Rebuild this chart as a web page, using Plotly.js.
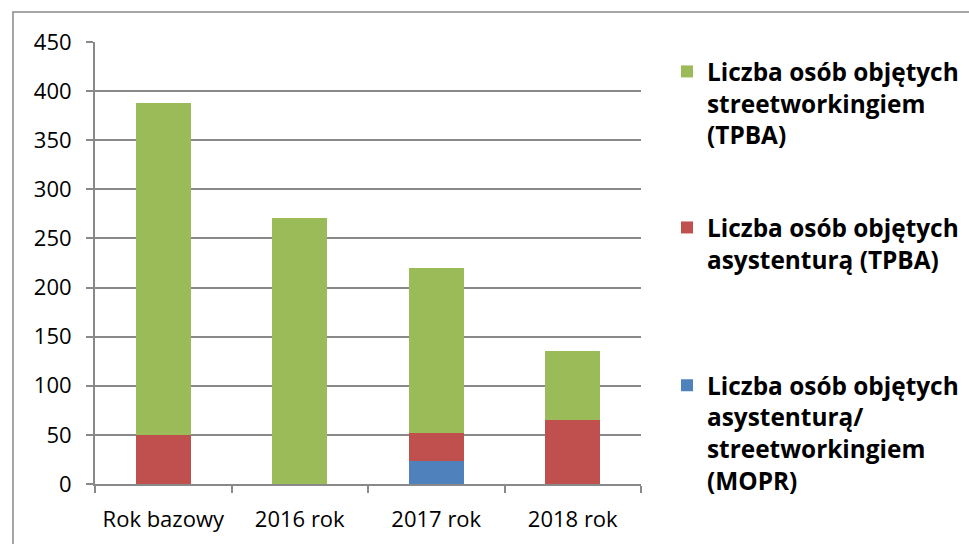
<!DOCTYPE html>
<html>
<head>
<meta charset="utf-8">
<script src="https://cdn.plot.ly/plotly-3.0.1.min.js"></script>
<style>html,body{margin:0;padding:0;background:#fff;}#chart{width:969px;height:544px;}</style>
</head>
<body>
<div id="chart"></div>
<script>
const categories = ["Rok bazowy", "2016 rok", "2017 rok", "2018 rok"];
const mopr = [0, 0, 23, 0];
const tpbaAsyst = [50, 0, 29, 65];
const tpbaStreet = [338, 271, 168, 70];
const seriesNames = [
  "Liczba osób objętych<br>asystenturą/<br>streetworkingiem<br>(MOPR)",
  "Liczba osób objętych<br>asystenturą (TPBA)",
  "Liczba osób objętych<br>streetworkingiem<br>(TPBA)"
];
const yTicks = [0, 50, 100, 150, 200, 250, 300, 350, 400, 450];

const font = "'Open Sans', sans-serif";
const traces = [
  {type: "bar", x: categories, y: mopr, name: seriesNames[0], marker: {color: "#4F81BD"}, legend: "legend3"},
  {type: "bar", x: categories, y: tpbaAsyst, name: seriesNames[1], marker: {color: "#C0504D"}, legend: "legend2"},
  {type: "bar", x: categories, y: tpbaStreet, name: seriesNames[2], marker: {color: "#9BBB59"}, legend: "legend"}
];
const legendBase = {
  xanchor: "left", yanchor: "top", valign: "top",
  font: {family: font, size: 24.4, color: "#000", weight: "bold"},
  bgcolor: "rgba(0,0,0,0)", itemclick: false, itemwidth: 30
};
const layout = {
  width: 969, height: 544,
  margin: {l: 95, r: 328, t: 42, b: 60, autoexpand: false},
  paper_bgcolor: "#fff", plot_bgcolor: "#fff",
  barmode: "stack", bargap: 0.6,
  showlegend: true,
  legend: Object.assign({}, legendBase, {x: 1.0476, y: 0.984}),
  legend2: Object.assign({}, legendBase, {x: 1.0476, y: 0.631}),
  legend3: Object.assign({}, legendBase, {x: 1.0476, y: 0.274}),
  font: {family: font, size: 22, color: "#000"},
  xaxis: {
    type: "category", showgrid: false, showline: true, linecolor: "#898989", linewidth: 2,
    ticks: "outside", tickson: "boundaries", ticklen: 7, tickcolor: "#898989", tickwidth: 2,
    ticklabelstandoff: 15,
    tickfont: {family: font, size: 22, color: "#000"}, fixedrange: true
  },
  yaxis: {
    range: [0, 450], tickvals: yTicks, ticktext: yTicks.map(String),
    showgrid: true, gridcolor: "#898989", gridwidth: 2,
    showline: true, linecolor: "#898989", linewidth: 2,
    ticks: "outside", ticklen: 7, tickcolor: "#898989", tickwidth: 2,
    ticklabelstandoff: 10,
    zeroline: false, tickfont: {family: font, size: 22, color: "#000"}, fixedrange: true
  },
  shapes: [
    {type: "rect", xref: "paper", yref: "paper", x0: -0.1502, x1: 1.62, y0: -0.16, y1: 1.0679,
     line: {color: "#898989", width: 1.5}, fillcolor: "rgba(0,0,0,0)", layer: "below"}
  ]
};
Plotly.newPlot("chart", traces, layout, {displayModeBar: false, staticPlot: true});
</script>
</body>
</html>
